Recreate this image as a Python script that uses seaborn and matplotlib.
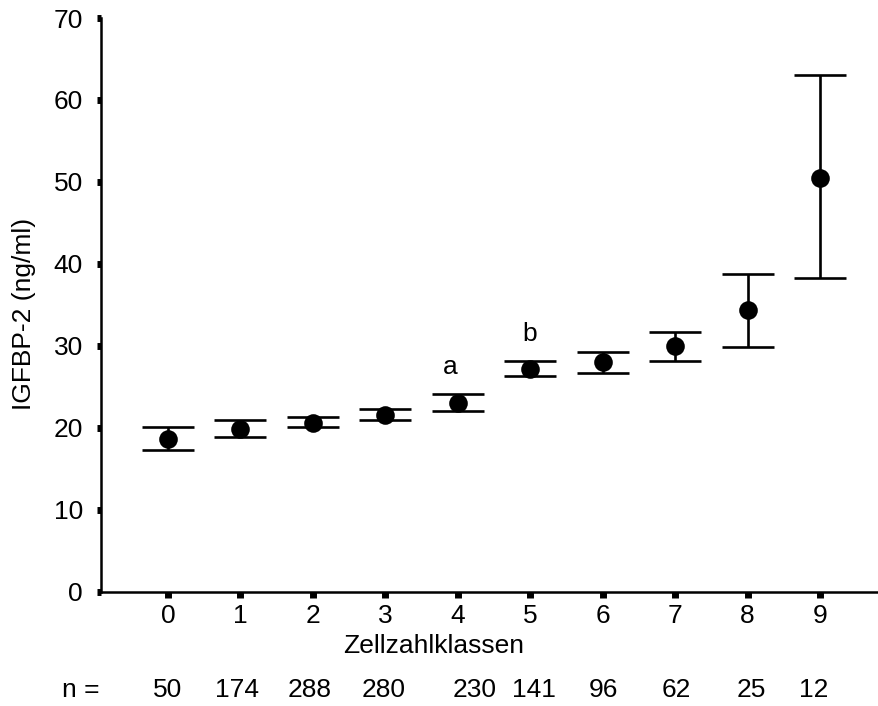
import matplotlib
matplotlib.use("Agg")
import matplotlib.pyplot as plt
import matplotlib.transforms as mtransforms
import seaborn as sns
import numpy as np
import pandas as pd

# ---- data ----
classes = [0, 1, 2, 3, 4, 5, 6, 7, 8, 9]
means = [18.6, 19.9, 20.6, 21.6, 23.0, 27.2, 28.0, 30.0, 34.4, 50.5]
upper = [20.1, 20.9, 21.3, 22.3, 24.1, 28.2, 29.2, 31.7, 38.8, 63.1]
lower = [17.3, 18.9, 20.1, 20.9, 22.1, 26.3, 26.7, 28.1, 29.9, 38.3]
n_counts = ["50", "174", "288", "280", "230", "141", "96", "62", "25", "12"]
letters = {4: "a", 5: "b"}
ytick_vals = [0, 10, 20, 30, 40, 50, 60, 70]

df = pd.DataFrame({"Zellzahlklassen": classes, "IGFBP2": means,
                   "upper": upper, "lower": lower})

sns.set_style("ticks")
plt.rcParams["font.family"] = ["Liberation Sans", "DejaVu Sans"]
plt.rcParams["text.color"] = "black"
plt.rcParams["axes.labelcolor"] = "black"
FS = 19

fig = plt.figure(figsize=(8.79, 7.06), dpi=100)
W, H = 879, 706
ax = fig.add_axes([101 / W, 1 - 591.7 / H, (879 - 101) / W, (591.7 - 18) / H])

yerr = np.vstack([df["IGFBP2"] - df["lower"], df["upper"] - df["IGFBP2"]])
ax.errorbar(df["Zellzahlklassen"], df["IGFBP2"], yerr=yerr, fmt="none",
            ecolor="black", elinewidth=1.9, capsize=18.5, capthick=1.9, zorder=2)
sns.scatterplot(data=df, x="Zellzahlklassen", y="IGFBP2", ax=ax, s=180,
                color="black", edgecolor="black", linewidth=0, zorder=3, legend=False)

# letters above selected points
letter_dx = {4: -0.11, 5: -0.01}
for k, t in letters.items():
    ax.text(classes[k] + letter_dx[k], upper[k] + 3.3, t, fontsize=FS,
            ha="center", va="center", color="black")

ax.set_xlim(-0.925, 9.815)
ax.set_ylim(0, 70)
ax.set_xticks(classes)
ax.set_xticklabels([str(c) for c in classes])
ax.set_yticks(ytick_vals)
ax.set_yticklabels([str(v) for v in ytick_vals])

sns.despine(ax=ax)
for sp in ["left", "bottom"]:
    ax.spines[sp].set_linewidth(1.8)
    ax.spines[sp].set_color("black")
ax.tick_params(axis="y", direction="out", length=3, width=5, pad=10,
               labelsize=FS, colors="black")
ax.tick_params(axis="x", direction="out", length=4, width=5, pad=5,
               labelsize=FS, colors="black")

ax.set_xlabel("Zellzahlklassen", fontsize=FS, color="black")
ax.set_ylabel("IGFBP-2 (ng/ml)", fontsize=FS, color="black")
ax.xaxis.set_label_coords((434 - 101) / 778, (591.7 - 646) / 573.7)
ax.xaxis.label.set_va("center")
ax.yaxis.set_label_coords((24 - 101) / 778, (591.7 - 314) / 573.7)
ax.yaxis.label.set_va("center")

# n row
trans = mtransforms.blended_transform_factory(ax.transData, ax.transAxes)
n_dx = [0, -0.05, -0.04, -0.03, 0.23, 0.05, 0.01, 0.02, 0.05, -0.09]
ny = (591.7 - 690) / (591.7 - 18)
ax.text(-1.2, ny, "n =", fontsize=FS, ha="center", va="center",
        transform=trans, color="black")
for c, t, dx in zip(classes, n_counts, n_dx):
    ax.text(c + dx, ny, t, fontsize=FS, ha="center", va="center",
            transform=trans, color="black")

fig.savefig("out.png", dpi=100)
